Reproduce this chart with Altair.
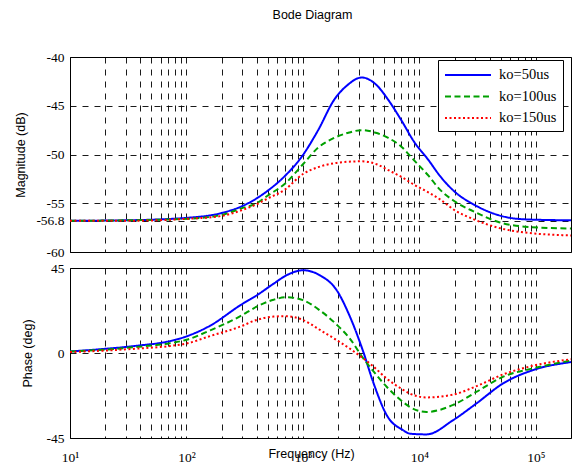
import altair as alt
import pandas as pd

# ---------------- data ----------------
series_names = ["ko=50us", "ko=100us", "ko=150us"]
series_colors = ["#0000ff", "#00a000", "#ff0000"]
series_dashes = [[1, 0], [6, 3.5], [2, 2.5]]

mag_freq = [10, 30, 100, 200, 300, 400, 500, 700, 1000, 1350, 1850, 2400, 3200,
            4300, 5400, 7000, 9000, 12000, 15000, 20000, 30000, 47000, 80000, 200000]
mag_50 = [-56.8, -56.75, -56.5, -56.0, -55.3, -54.5, -53.7, -52.2, -50.05, -47.5, -44.4, -42.9,
          -42.1, -42.9, -44.4, -46.5, -48.7, -50.6, -52.2, -53.8, -55.2, -56.2, -56.65, -56.75]
mag_100 = [-56.8, -56.75, -56.6, -56.2, -55.5, -55.0, -54.2, -53.0, -51.0, -49.3, -48.3, -47.8,
           -47.5, -47.8, -48.3, -49.2, -50.6, -52.2, -53.6, -54.8, -55.9, -56.9, -57.4, -57.6]
mag_150 = [-56.8, -56.8, -56.6, -56.3, -55.7, -55.1, -54.5, -53.6, -52.0, -51.3, -50.9, -50.75,
           -50.7, -51.0, -51.6, -52.3, -53.1, -53.9, -54.6, -55.7, -56.7, -57.5, -58.0, -58.3]

ph_freq = [10, 20, 37, 72, 100, 160, 290, 400, 560, 720, 1000, 1400, 1950, 2500, 3300,
           4000, 5250, 7250, 8300, 11500, 19500, 31000, 52500, 95000, 200000]
ph_50 = [0.8, 2.2, 3.8, 6.3, 8.8, 14.5, 25.3, 30.5, 36.7, 41.1, 43.8, 41.1, 33.2, 20.0, 0.5,
         -15.3, -33.0, -40.9, -42.7, -43.1, -35.5, -26.6, -16.0, -9.0, -4.8]
ph_100 = [0.8, 1.8, 3.2, 5.2, 7.0, 12.0, 19.5, 24.5, 28.2, 29.5, 28.0, 22.5, 15.0, 8.0, -2.9,
          -9.5, -18.0, -26.0, -28.6, -31.2, -27.5, -20.5, -12.5, -8.1, -4.0]
ph_150 = [0.5, 1.3, 2.3, 3.7, 5.0, 9.0, 14.0, 17.5, 19.3, 19.5, 17.5, 12.2, 6.8, 2.5, -2.9,
          -7.0, -13.6, -19.5, -21.5, -23.5, -22.0, -17.5, -11.3, -6.7, -3.3]

grid_freq = [m * 10 ** d for d in range(1, 5) for m in range(1, 10)] + [100000, 200000]
x_tick_values = [10, 100, 1000, 10000, 100000]
x_tick_labels = ["10\u00b9", "10\u00b2", "10\u00b3", "10\u2074", "10\u2075"]

mag_tick_values = [-60, -56.8, -55, -50, -45, -40]
mag_tick_labels = ["-60", "-56.8", "-55", "-50", "-45", "-40"]
ph_tick_values = [-45, 0, 45]
ph_tick_labels = ["-45", "0", "45"]


def label_expr(values, labels):
    expr = "''"
    for v, l in reversed(list(zip(values, labels))):
        expr = f"datum.value == {v} ? '{l}' : ({expr})"
    return expr


def long_table(freq, series_values):
    rows = []
    for name, vals in zip(series_names, series_values):
        for f, v in zip(freq, vals):
            rows.append({"freq": f, "value": v, "series": name})
    return pd.DataFrame(rows)


mag_df = long_table(mag_freq, [mag_50, mag_100, mag_150])
ph_df = long_table(ph_freq, [ph_50, ph_100, ph_150])

# ---------------- styling ----------------
W = 501
SERIF = "Liberation Serif"
SANS = "Liberation Sans"
GRID = dict(grid=True, gridColor="#000000", gridDash=[6, 6], gridWidth=0.9,
            ticks=False, domain=False)

legend = alt.Legend(
    title=None, orient="none", legendX=368, legendY=3,
    symbolType="M-1,0L4.75,0", symbolSize=256, symbolStrokeWidth=2,
    labelFont=SERIF, labelFontSize=14.5, labelColor="black", labelOffset=37,
    padding=6, rowPadding=5.5, strokeColor="black", fillColor="white",
)
color = alt.Color("series:N", scale=alt.Scale(domain=series_names, range=series_colors),
                  legend=legend)
dash = alt.StrokeDash("series:N", scale=alt.Scale(domain=series_names, range=series_dashes),
                      legend=legend)


def panel(df, y_title, y_domain, y_vals, y_labels, title_x, height, bottom):
    if bottom:
        x_axis = alt.Axis(values=grid_freq, labelExpr=label_expr(x_tick_values, x_tick_labels),
                          labelFlush=False, labelOverlap=False, labelPadding=12,
                          labelFont=SERIF, labelFontSize=13.5, labelColor="black",
                          title="Frequency  (Hz)", titleX=241, titleY=19.5,
                          titleAlign="center", titleBaseline="alphabetic",
                          titleFont=SANS, titleFontSize=12.5, titleFontWeight="normal",
                          titleColor="black", **GRID)
    else:
        x_axis = alt.Axis(values=grid_freq, labels=False, title=None, **GRID)
    y_axis = alt.Axis(values=y_vals, labelExpr=label_expr(y_vals, y_labels),
                      labelPadding=6, labelFont=SERIF, labelFontSize=13.5, labelColor="black",
                      title=y_title, titleX=title_x, titleBaseline="middle",
                      titleFont=SANS, titleFontSize=12.5, titleFontWeight="normal",
                      titleColor="black", **GRID)
    x = alt.X("freq:Q", scale=alt.Scale(type="log", domain=[10, 200000], nice=False),
              axis=x_axis)
    y = alt.Y("value:Q", scale=alt.Scale(domain=y_domain, nice=False, zero=False),
              axis=y_axis)
    layers = []
    for name in series_names:
        layers.append(
            alt.Chart(df).transform_filter(alt.datum.series == name)
            .mark_line(strokeWidth=2, interpolate="monotone", clip=True)
            .encode(x=x, y=y, color=color, strokeDash=dash)
        )
    return alt.layer(*layers).properties(width=W, height=height)


top = panel(mag_df, "Magnitude (dB)", [-60, -40], mag_tick_values, mag_tick_labels,
            -50, 195, False)
bottom = panel(ph_df, "Phase (deg)", [-45, 45], ph_tick_values, ph_tick_labels,
               -43, 170, True)

chart = alt.vconcat(top, bottom, spacing=16, bounds="flush").properties(
    title=alt.TitleParams("Bode Diagram", font=SANS, fontSize=12.5, fontWeight="normal",
                          color="black", anchor="middle", offset=28, dx=20),
    padding={"left": 13, "top": 9, "right": 0, "bottom": 0},
    background="white",
).configure_view(stroke="black", strokeWidth=1)

chart.save("out.html", embed_options={"renderer": "svg", "actions": False})
